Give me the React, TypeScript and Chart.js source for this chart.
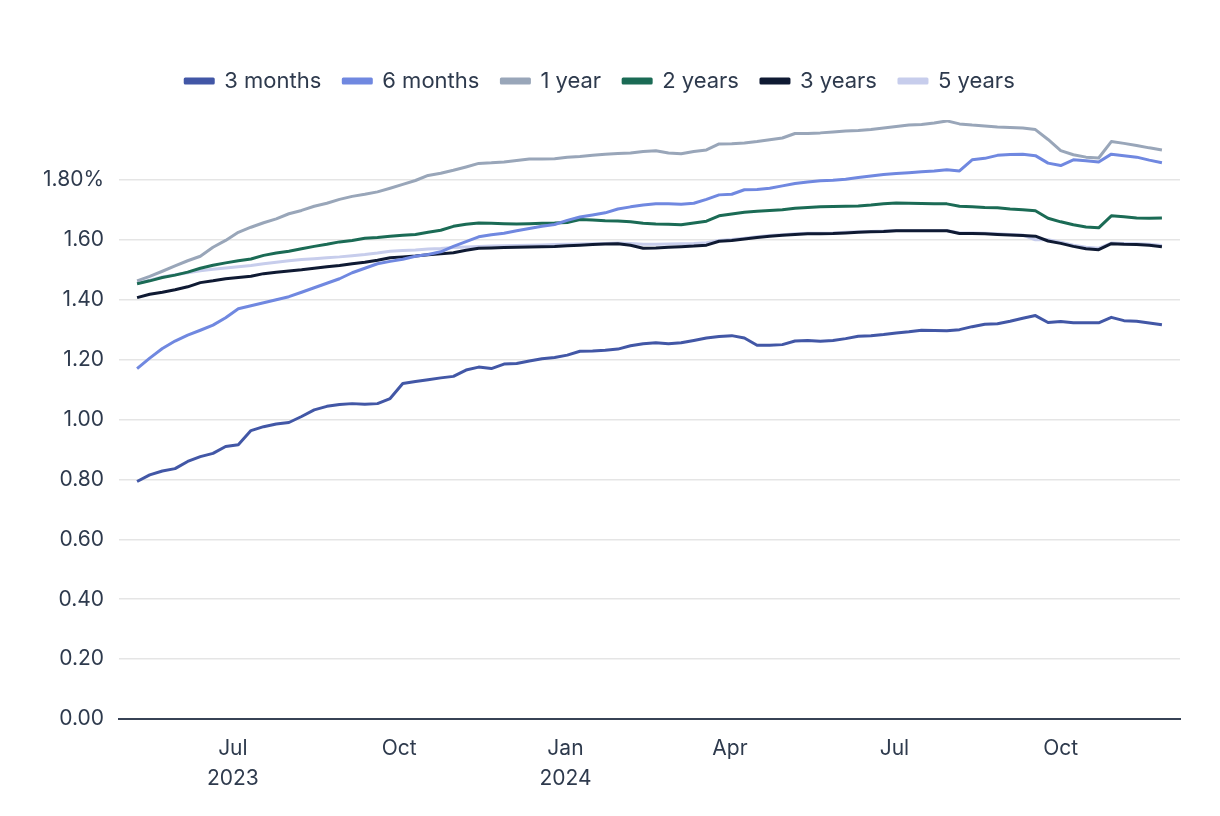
import React, { useEffect, useRef } from "react";
import { Chart, registerables } from "chart.js";

Chart.register(...registerables);

// Weekly observations starting 2023-05-09
const START_DATE = "2023-05-09";
const WEEKS = 82;

const seriesNames = ["3 months", "6 months", "1 year", "2 years", "3 years", "5 years"];
const seriesColors = ["#4257a6", "#7088e0", "#99a6b9", "#1b6b55", "#0f1a33", "#c7cdec"];

const months3 = [
  0.793, 0.815, 0.828, 0.836, 0.86, 0.876, 0.887, 0.91, 0.916, 0.963,
  0.976, 0.985, 0.99, 1.01, 1.032, 1.044, 1.05, 1.053, 1.051, 1.053,
  1.07, 1.12, 1.127, 1.133, 1.139, 1.144, 1.165, 1.175, 1.17, 1.185,
  1.187, 1.195, 1.203, 1.207, 1.215, 1.228, 1.229, 1.231, 1.235, 1.246,
  1.253, 1.256, 1.253, 1.256, 1.264, 1.272, 1.277, 1.28, 1.272, 1.248,
  1.248, 1.25, 1.262, 1.264, 1.261, 1.264, 1.27, 1.278, 1.28, 1.284,
  1.289, 1.293, 1.298, 1.297, 1.296, 1.3, 1.31, 1.318, 1.32, 1.328,
  1.338, 1.347, 1.324, 1.327, 1.323, 1.323, 1.323, 1.341, 1.33, 1.328,
  1.322, 1.316,
];

const months6 = [
  1.17, 1.205, 1.237, 1.262, 1.282, 1.298, 1.315, 1.34, 1.37, 1.38,
  1.39, 1.4, 1.41, 1.425, 1.44, 1.455, 1.47, 1.49, 1.505, 1.52,
  1.528, 1.535, 1.545, 1.551, 1.56, 1.578, 1.594, 1.61, 1.617, 1.622,
  1.63, 1.638, 1.645, 1.651, 1.665, 1.676, 1.683, 1.69, 1.703, 1.71,
  1.716, 1.72, 1.72, 1.719, 1.722, 1.735, 1.75, 1.752, 1.767, 1.768,
  1.772, 1.78, 1.788, 1.793, 1.797, 1.799, 1.802, 1.808, 1.813, 1.818,
  1.821, 1.824, 1.827, 1.83, 1.834, 1.83, 1.867, 1.872, 1.882, 1.885,
  1.886, 1.881, 1.856, 1.848, 1.867, 1.864, 1.86, 1.886, 1.881, 1.876,
  1.866, 1.857,
];

const year1 = [
  1.463, 1.478, 1.495, 1.513, 1.53, 1.545, 1.575, 1.598, 1.625, 1.642,
  1.657, 1.67, 1.687, 1.698, 1.712, 1.722, 1.735, 1.745, 1.752, 1.76,
  1.772, 1.785, 1.798, 1.815, 1.822, 1.832, 1.843, 1.855, 1.857, 1.86,
  1.865, 1.87, 1.87, 1.871, 1.876, 1.878, 1.882, 1.886, 1.888, 1.89,
  1.895, 1.897, 1.89, 1.887, 1.895, 1.9, 1.92, 1.921, 1.923, 1.928,
  1.934, 1.94, 1.955, 1.955, 1.957, 1.96, 1.963, 1.965, 1.968, 1.973,
  1.978, 1.983, 1.985, 1.99, 1.997, 1.987, 1.983, 1.98, 1.977, 1.975,
  1.973, 1.968, 1.935, 1.898, 1.884, 1.876, 1.873, 1.928, 1.922, 1.915,
  1.907, 1.9,
];

const years2 = [
  1.453, 1.463, 1.474, 1.482, 1.492, 1.505, 1.515, 1.523, 1.53, 1.536,
  1.548, 1.556, 1.562, 1.57, 1.578, 1.585, 1.593, 1.598, 1.605, 1.608,
  1.612, 1.615, 1.618, 1.625, 1.632, 1.645, 1.652, 1.656, 1.655, 1.654,
  1.653, 1.654, 1.655, 1.656, 1.658, 1.668, 1.666, 1.664, 1.663, 1.66,
  1.655, 1.653, 1.652, 1.65, 1.656, 1.662, 1.68, 1.686, 1.692, 1.695,
  1.698, 1.7, 1.705, 1.708, 1.71, 1.711, 1.712, 1.713, 1.716, 1.72,
  1.723, 1.722, 1.721, 1.72, 1.72, 1.712, 1.71, 1.708, 1.707, 1.703,
  1.7, 1.697, 1.672, 1.66, 1.65, 1.643, 1.64, 1.68, 1.677, 1.673,
  1.672, 1.673,
];

const years3 = [
  1.407, 1.418, 1.425, 1.433, 1.443, 1.457, 1.463, 1.47, 1.474, 1.478,
  1.487, 1.492, 1.496, 1.5, 1.505, 1.51, 1.514, 1.52, 1.525, 1.532,
  1.54, 1.543, 1.546, 1.55, 1.553, 1.557, 1.565, 1.572, 1.573, 1.574,
  1.575, 1.576, 1.577, 1.578, 1.58, 1.582, 1.584, 1.586, 1.587, 1.582,
  1.572, 1.573, 1.575, 1.577, 1.579, 1.582, 1.595, 1.598, 1.603, 1.608,
  1.612, 1.615, 1.618, 1.62, 1.62, 1.621, 1.623, 1.625, 1.627, 1.628,
  1.63, 1.63, 1.63, 1.63, 1.63, 1.621, 1.621, 1.62, 1.618, 1.616,
  1.614, 1.612, 1.596, 1.588, 1.578, 1.57, 1.567, 1.587, 1.585, 1.584,
  1.582, 1.577,
];

const years5 = [
  1.455, 1.465, 1.476, 1.483, 1.49, 1.497, 1.502, 1.506, 1.51, 1.514,
  1.52, 1.525, 1.53, 1.534, 1.537, 1.54, 1.543, 1.547, 1.551, 1.556,
  1.562, 1.564, 1.566, 1.569, 1.571, 1.574, 1.576, 1.578, 1.579, 1.58,
  1.581, 1.582, 1.583, 1.584, 1.585, 1.586, 1.587, 1.588, 1.589, 1.588,
  1.585, 1.585, 1.586, 1.587, 1.588, 1.59, 1.598, 1.601, 1.605, 1.61,
  1.614, 1.617, 1.62, 1.622, 1.622, 1.623, 1.625, 1.627, 1.628, 1.629,
  1.631, 1.631, 1.631, 1.631, 1.631, 1.623, 1.623, 1.622, 1.62, 1.618,
  1.616, 1.6, 1.6, 1.592, 1.582, 1.575, 1.572, 1.589, 1.588, 1.587,
  1.585, 1.581,
];

const tickDates = ["2023-07-01", "2023-10-01", "2024-01-01", "2024-04-01", "2024-07-01", "2024-10-01"];
const tickLabels: (string | string[])[] = [["Jul", "2023"], "Oct", ["Jan", "2024"], "Apr", "Jul", "Oct"];
const X_MIN_DATE = "2023-04-29";
const X_MAX_DATE = "2024-12-06";

const yTicks = [0, 0.2, 0.4, 0.6, 0.8, 1.0, 1.2, 1.4, 1.6, 1.8];

const DAY = 86400000;
const toDay = (s: string) => Math.round(Date.parse(s + "T00:00:00Z") / DAY);

const FONT = "Inter, 'Noto Sans', sans-serif";
const TEXT = "#2e3a4d";

const legendSpacing = {
  id: "legendSpacing",
  beforeInit(chart: any) {
    const legend = chart.legend;
    if (!legend) return;
    const origFit = legend.fit;
    legend.fit = function fit() {
      origFit.bind(legend)();
      this.height += 18;
    };
  },
};

export default function App() {
  const ref = useRef<HTMLCanvasElement | null>(null);

  useEffect(() => {
    document.body.style.margin = "0";
    const startDay = toDay(START_DATE);
    const days: number[] = [];
    for (let i = 0; i < WEEKS; i++) days.push(startDay + i * 7);
    const allSeries = [months3, months6, year1, years2, years3, years5];
    const tickDays = tickDates.map(toDay);

    const chart = new Chart(ref.current!, {
      type: "line",
      data: {
        datasets: allSeries.map((vals, si) => ({
          label: seriesNames[si],
          data: vals.map((v, i) => ({ x: days[i], y: v })),
          borderColor: seriesColors[si],
          backgroundColor: seriesColors[si],
          borderWidth: 3,
          pointRadius: 0,
          tension: 0,
          borderJoinStyle: "round" as const,
        })),
      },
      plugins: [legendSpacing],
      options: {
        animation: false,
        responsive: true,
        maintainAspectRatio: false,
        layout: { padding: { top: 48, right: 40, left: 20, bottom: 0 } },
        plugins: {
          tooltip: { enabled: false },
          legend: {
            position: "top",
            labels: {
              boxWidth: 28,
              boxHeight: 4,
              padding: 22,
              color: TEXT,
              font: { family: FONT, size: 22 },
            },
          },
        },
        scales: {
          x: {
            type: "linear",
            min: toDay(X_MIN_DATE),
            max: toDay(X_MAX_DATE),
            afterBuildTicks: (scale: any) => {
              scale.ticks = tickDays.map((v) => ({ value: v }));
            },
            afterFit: (scale: any) => {
              scale.height = 97;
            },
            grid: { display: false, drawTicks: false },
            border: { display: true, color: "#374255", width: 2 },
            ticks: {
              padding: 14,
              color: TEXT,
              maxRotation: 0,
              autoSkip: false,
              font: { family: FONT, size: 21, lineHeight: 1.45 },
              callback: (value: any) => {
                const idx = tickDays.indexOf(Number(value));
                return idx >= 0 ? tickLabels[idx] : "";
              },
            },
          },
          y: {
            min: 0,
            max: 2.0,
            afterBuildTicks: (scale: any) => {
              scale.ticks = yTicks.map((v) => ({ value: v }));
            },
            afterFit: (scale: any) => {
              scale.width = 99;
            },
            border: { display: false },
            grid: { color: "#e5e5e5", lineWidth: 1.5, drawTicks: false },
            ticks: {
              padding: 15,
              color: TEXT,
              font: { family: FONT, size: 21 },
              callback: (value: any) => {
                const v = Number(value);
                if (Math.abs(v - 1.8) < 1e-6) return "1.80%";
                return v.toFixed(2);
              },
            },
          },
        },
      },
    });
    return () => chart.destroy();
  }, []);

  return (
    <div style={{ width: 1220, height: 816, position: "relative" }}>
      <canvas ref={ref} />
    </div>
  );
}
